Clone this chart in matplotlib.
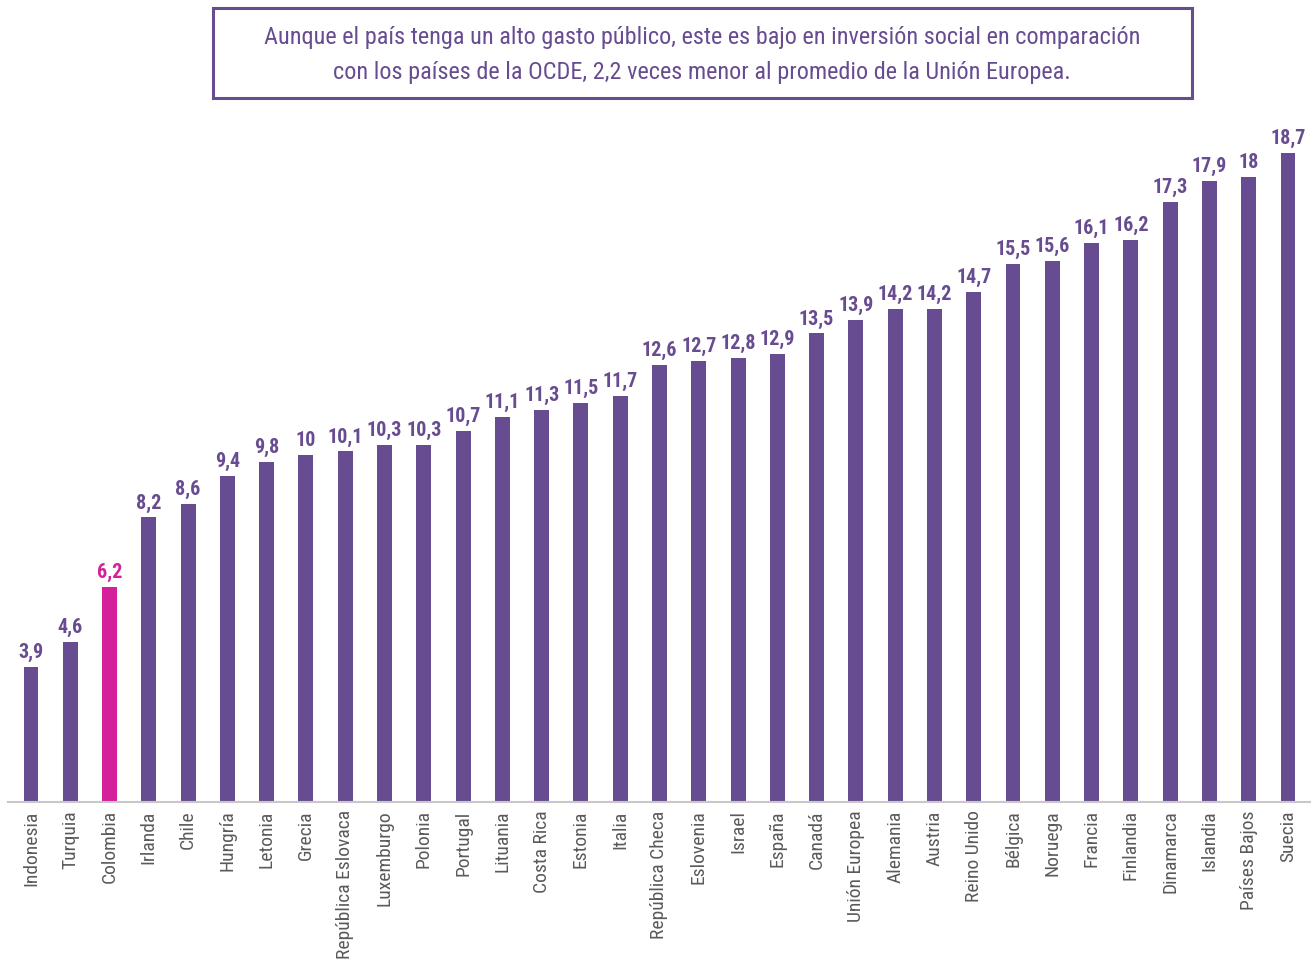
import matplotlib.pyplot as plt
from matplotlib.patches import Rectangle
from matplotlib import font_manager

countries = ['Indonesia', 'Turquia', 'Colombia', 'Irlanda', 'Chile', 'Hungría', 'Letonia', 'Grecia',
             'República Eslovaca', 'Luxemburgo', 'Polonia', 'Portugal', 'Lituania', 'Costa Rica',
             'Estonia', 'Italia', 'República Checa', 'Eslovenia', 'Israel', 'España', 'Canadá',
             'Unión Europea', 'Alemania', 'Austria', 'Reino Unido', 'Bélgica', 'Noruega', 'Francia',
             'Finlandia', 'Dinamarca', 'Islandia', 'Países Bajos', 'Suecia']
values = [3.9, 4.6, 6.2, 8.2, 8.6, 9.4, 9.8, 10, 10.1, 10.3, 10.3, 10.7, 11.1, 11.3, 11.5, 11.7,
          12.6, 12.7, 12.8, 12.9, 13.5, 13.9, 14.2, 14.2, 14.7, 15.5, 15.6, 16.1, 16.2, 17.3, 17.9, 18, 18.7]
highlight = 'Colombia'
title = ('Aunque el país tenga un alto gasto público, este es bajo en inversión social en comparación\n'
         'con los países de la OCDE, 2,2 veces menor al promedio de la Unión Europea.')

PURPLE = '#684c91'
MAGENTA = '#d4209b'

names = {f.name for f in font_manager.fontManager.ttflist}
pick = next((n for n in ['Roboto Condensed', 'Liberation Sans Narrow', 'Lato', 'Roboto'] if n in names),
            'DejaVu Sans')
plt.rcParams['font.family'] = [pick, 'DejaVu Sans']

W, H = 1315, 965
fig = plt.figure(figsize=(W / 100, H / 100), dpi=100)

# axes placed in pixel terms: baseline at y=802, left edge ~8px, right ~1310px
ax = fig.add_axes([8 / W, (H - 802) / H, (1310 - 8) / W, (802 - 120) / H])

x = range(len(values))
colors = [MAGENTA if c == highlight else PURPLE for c in countries]
ax.bar(x, values, width=0.38, color=colors)

for i, v in zip(x, values):
    txt = f'{v:g}'.replace('.', ',')
    ax.annotate(txt, (i, v), xytext=(0, 3.5), textcoords='offset points', ha='center', va='bottom',
                fontsize=14.5, fontweight='bold', color=colors[i])

ax.set_xlim(-0.585, len(values) - 1 + 0.56)
ax.set_ylim(0, 19.65)
ax.set_xticks(list(x))
ax.set_xticklabels(countries, rotation=90, fontsize=14, color='#5a5a5a')
ax.tick_params(axis='x', length=0, pad=6)
ax.set_yticks([])
for s in ['top', 'right', 'left']:
    ax.spines[s].set_visible(False)
ax.spines['bottom'].set_color('#c8c8c8')
ax.spines['bottom'].set_linewidth(1.5)

# title box
fig.patches.append(Rectangle((213 / W, (H - 98) / H), (1192 - 213) / W, (98 - 8) / H,
                             transform=fig.transFigure, fill=False, edgecolor=PURPLE, linewidth=2.2))
fig.text(702 / W, (H - 55) / H, title, ha='center', va='center', fontsize=17.5, color=PURPLE,
         linespacing=1.72)

fig.savefig('out.png', dpi=100)
